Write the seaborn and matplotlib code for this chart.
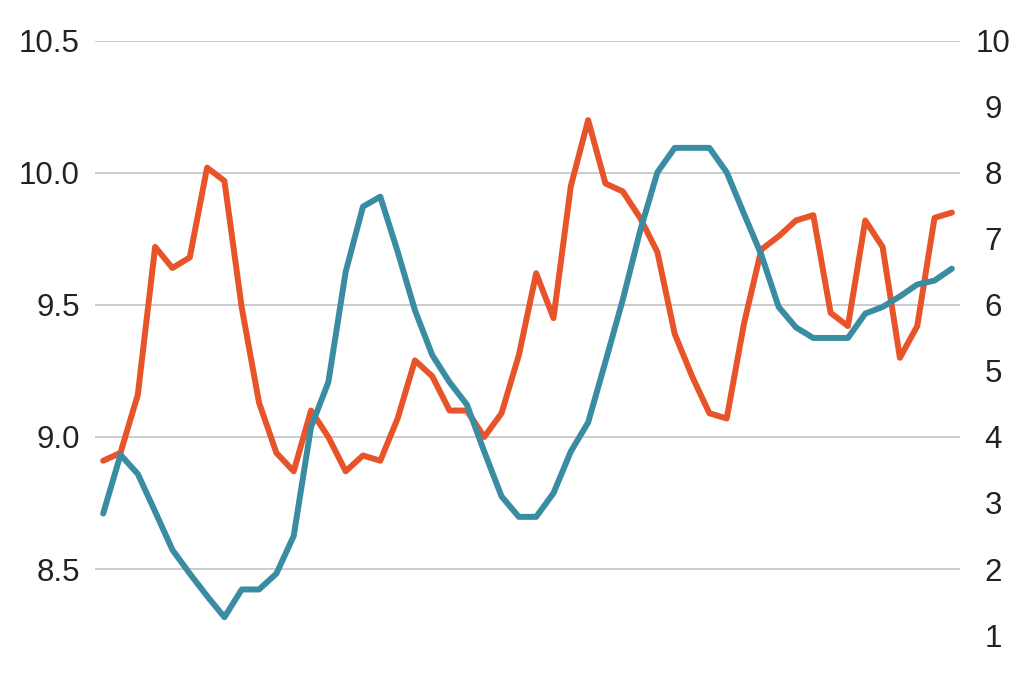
import numpy as np
import pandas as pd
import matplotlib
matplotlib.use("Agg")
import matplotlib.pyplot as plt
import seaborn as sns

# valori (50 punti)
orange_vals = [8.91, 8.94, 9.16, 9.72, 9.64, 9.68, 10.02, 9.97, 9.49, 9.13,
               8.94, 8.87, 9.10, 9.00, 8.87, 8.93, 8.91, 9.07, 9.29, 9.23,
               9.10, 9.10, 9.00, 9.09, 9.31, 9.62, 9.45, 9.95, 10.20, 9.96,
               9.93, 9.83, 9.70, 9.39, 9.23, 9.09, 9.07, 9.43, 9.71, 9.76,
               9.82, 9.84, 9.47, 9.42, 9.82, 9.72, 9.30, 9.42, 9.83, 9.85]
teal_vals = [2.84, 3.73, 3.44, 2.87, 2.29, 1.93, 1.59, 1.27, 1.69, 1.69,
             1.93, 2.50, 4.15, 4.83, 6.50, 7.49, 7.64, 6.81, 5.92, 5.24,
             4.83, 4.49, 3.78, 3.10, 2.79, 2.79, 3.15, 3.78, 4.22, 5.14,
             6.08, 7.12, 8.01, 8.38, 8.38, 8.38, 8.01, 7.38, 6.76, 5.97,
             5.66, 5.50, 5.50, 5.50, 5.87, 5.97, 6.13, 6.31, 6.37, 6.55]
left_ticks = [8.5, 9.0, 9.5, 10.0, 10.5]
left_labels = ["8.5", "9.0", "9.5", "10.0", "10.5"]
right_ticks = list(range(1, 11))

df = pd.DataFrame({"t": np.arange(len(orange_vals)),
                   "orange": orange_vals, "teal": teal_vals})

sns.set_theme(style="white")
plt.rcParams["font.family"] = ["Liberation Sans", "DejaVu Sans"]

fig = plt.figure(figsize=(10.24, 6.82), dpi=100)
ax = fig.add_axes([0.0928, 0.0689, 0.8447, 0.8711])
ax2 = ax.twinx()

sns.lineplot(data=df, x="t", y="orange", ax=ax, color="#E8542A",
             linewidth=4.3, zorder=3)
sns.lineplot(data=df, x="t", y="teal", ax=ax2, color="#3A8CA3",
             linewidth=4.3, zorder=3)

ax.set_xlim(-0.47, len(orange_vals) - 1 + 0.47)
ax.set_ylim(8.25, 10.5)
ax2.set_ylim(1, 10)

ax.set_yticks(left_ticks)
ax.set_yticklabels(left_labels)
ax2.set_yticks(right_ticks)
ax2.set_yticklabels([str(v) for v in right_ticks], ha="center")

ax.grid(axis="y", color="#c8c8c8", linewidth=1.3)
ax.grid(axis="x", visible=False)
ax2.grid(False)
ax.set_xticks([])
ax.set_xlabel("")
ax.set_ylabel("")
ax2.set_ylabel("")

ax.tick_params(axis="y", length=0, pad=11, labelsize=22.5, labelcolor="#222222")
ax2.tick_params(axis="y", length=0, pad=24, labelsize=22.5, labelcolor="#222222")

for a in (ax, ax2):
    for s in a.spines.values():
        s.set_visible(False)

fig.savefig("out.png", dpi=100)
